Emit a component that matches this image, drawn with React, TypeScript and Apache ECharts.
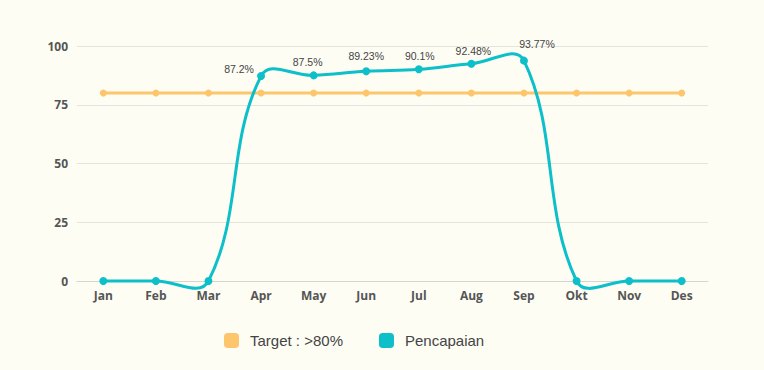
import React, { useEffect, useRef } from "react";
import * as echarts from "echarts";

const months = ["Jan", "Feb", "Mar", "Apr", "May", "Jun", "Jul", "Aug", "Sep", "Okt", "Nov", "Des"];
const targetValues = [80, 80, 80, 80, 80, 80, 80, 80, 80, 80, 80, 80];
const achievementValues = [0, 0, 0, 87.2, 87.5, 89.23, 90.1, 92.48, 93.77, 0, 0, 0];
const yTicks = [0, 25, 50, 75, 100];
const targetName = "Target : >80%";
const achievementName = "Pencapaian";

// label placement tweaks (style, not data)
const labelOffsets: Record<number, [number, number]> = {
  3: [-22, 7],
  4: [-6, 1],
  5: [0, -1],
  6: [1, 1],
  7: [2, 2],
  8: [13, -2],
};

const TEAL = "#0dbfc9";
const ORANGE = "#fdc56c";

export default function App() {
  const ref = useRef<HTMLDivElement>(null);
  useEffect(() => {
    document.body.style.margin = "0";
    document.body.style.background = "#fdfdf4";
    const chart = echarts.init(ref.current!, null, { renderer: "svg" });

    const renderCurve = (params: any, api: any) => {
      if (params.dataIndex !== 0) return null;
      const pts = achievementValues.map((v, i) => api.coord([i, v]));
      const t = 0.4;
      const cps = pts.map((p, i) => {
        const prev = pts[i - 1] || p;
        const next = pts[i + 1] || p;
        const d01 = Math.hypot(p[0] - prev[0], p[1] - prev[1]);
        const d12 = Math.hypot(next[0] - p[0], next[1] - p[1]);
        let s01 = d01 / (d01 + d12);
        let s12 = d12 / (d01 + d12);
        if (isNaN(s01)) s01 = 0;
        if (isNaN(s12)) s12 = 0;
        const fa = t * s01;
        const fb = t * s12;
        return {
          prev: [p[0] - fa * (next[0] - prev[0]), p[1] - fa * (next[1] - prev[1])],
          next: [p[0] + fb * (next[0] - prev[0]), p[1] + fb * (next[1] - prev[1])],
        };
      });
      const children: any[] = [];
      for (let i = 0; i < pts.length - 1; i++) {
        children.push({
          type: "bezierCurve",
          shape: {
            x1: pts[i][0],
            y1: pts[i][1],
            cpx1: cps[i].next[0],
            cpy1: cps[i].next[1],
            cpx2: cps[i + 1].prev[0],
            cpy2: cps[i + 1].prev[1],
            x2: pts[i + 1][0],
            y2: pts[i + 1][1],
          },
          style: { stroke: TEAL, lineWidth: 3, fill: null, lineCap: "round" },
        });
      }
      return { type: "group", children };
    };

    chart.setOption({
      animation: false,
      backgroundColor: "#fdfdf4",
      textStyle: { fontFamily: "Open Sans" },
      grid: { left: 77, right: 56, top: 46, bottom: 89 },
      xAxis: {
        type: "category",
        data: months,
        boundaryGap: true,
        axisLine: { lineStyle: { color: "#d6d6d0" } },
        axisTick: { show: false },
        axisLabel: { color: "#555", fontWeight: "bold", fontSize: 12, margin: 8 },
      },
      yAxis: {
        type: "value",
        min: yTicks[0],
        max: yTicks[yTicks.length - 1],
        interval: 25,
        axisLine: { show: false },
        axisTick: { show: false },
        splitLine: { lineStyle: { color: "#e4e4de" } },
        axisLabel: { color: "#555", fontWeight: "bold", fontSize: 12, margin: 9 },
      },
      legend: {
        bottom: 17,
        left: 219,
        itemGap: 36,
        itemWidth: 15,
        itemHeight: 15,
        icon: "roundRect",
        textStyle: {
          color: "#444",
          fontSize: 15,
          fontFamily: "Liberation Sans",
          padding: [0, 0, 0, 6],
        },
        data: [targetName, achievementName],
      },
      series: [
        {
          name: targetName,
          type: "line",
          data: targetValues,
          color: ORANGE,
          lineStyle: { width: 3, color: ORANGE },
          symbol: "circle",
          symbolSize: 7,
          itemStyle: { color: ORANGE },
          z: 2,
        },
        {
          name: achievementName + "-curve",
          type: "custom",
          data: achievementValues.map((v, i) => [i, v]),
          renderItem: renderCurve,
          z: 3,
          silent: true,
        },
        {
          name: achievementName,
          type: "line",
          data: achievementValues.map((v, i) => ({
            value: v,
            label: labelOffsets[i] ? { offset: labelOffsets[i] } : undefined,
          })),
          color: TEAL,
          lineStyle: { width: 0, opacity: 0 },
          symbol: "circle",
          symbolSize: 8,
          itemStyle: { color: TEAL },
          z: 4,
          label: {
            show: true,
            position: "top",
            distance: 5,
            color: "#444",
            fontSize: 10.5,
            fontFamily: "Liberation Sans",
            formatter: (p: any) => (p.value ? p.value + "%" : ""),
          },
        },
      ],
    });
    return () => chart.dispose();
  }, []);
  return <div ref={ref} style={{ width: 764, height: 370 }} />;
}
